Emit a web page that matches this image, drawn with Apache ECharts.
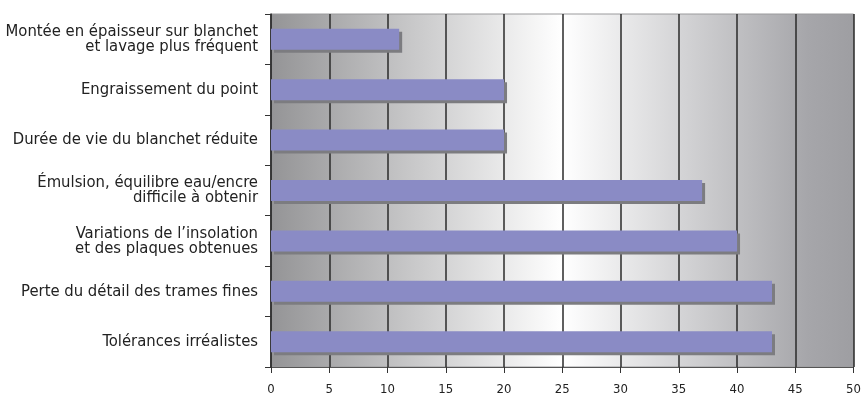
<!DOCTYPE html>
<html>
<head>
<meta charset="utf-8">
<script src="https://cdn.jsdelivr.net/npm/echarts@6/dist/echarts.min.js"></script>
<style>
  html, body { margin: 0; padding: 0; background: #ffffff; }
  #chart { width: 864px; height: 396px; }
</style>
</head>
<body>
<div id="chart"></div>
<script>
// Problèmes rencontrés (de bas en haut sur l'axe des catégories)
const categories = [
  'Tolérances irréalistes',
  'Perte du détail des trames fines',
  'Variations de l\u2019insolation\net des plaques obtenues',
  'Émulsion, équilibre eau/encre\ndifficile à obtenir',
  'Durée de vie du blanchet réduite',
  'Engraissement du point',
  'Montée en épaisseur sur blanchet\net lavage plus fréquent'
];
const values = [43, 43, 40, 37, 20, 20, 11];
const xTicks = [0, 5, 10, 15, 20, 25, 30, 35, 40, 45, 50];

const fontFamily = "'Liberation Sans Narrow', 'DejaVu Sans Condensed', 'Arial Narrow', sans-serif";

const chart = echarts.init(document.getElementById('chart'), null, { renderer: 'canvas' });

chart.setOption({
  animation: false,
  grid: {
    left: 271, right: 2, top: 14, bottom: 27,
    containLabel: false,
    show: true,
    borderColor: '#9a9a9c',
    borderWidth: 1,
    backgroundColor: new echarts.graphic.LinearGradient(0, 0, 1, 0, [
      { offset: 0, color: '#949496' },
      { offset: 0.5, color: '#ffffff' },
      { offset: 0.92, color: '#a6a6aa' },
      { offset: 1, color: '#9e9ea2' }
    ])
  },
  xAxis: {
    type: 'value',
    min: xTicks[0],
    max: xTicks[xTicks.length - 1],
    interval: 5,
    axisLine: { show: true, lineStyle: { color: '#555', width: 1 } },
    axisTick: { show: true, length: 6, lineStyle: { color: '#333' } },
    axisLabel: { color: '#222', fontFamily: fontFamily, fontSize: 13, margin: 16 },
    splitLine: { show: true, lineStyle: { color: '#2a2a2a', width: 1.5 } }
  },
  yAxis: {
    type: 'category',
    data: categories,
    axisLine: { show: true, lineStyle: { color: '#333', width: 1.5 } },
    axisTick: { show: true, length: 6, lineStyle: { color: '#333' } },
    axisLabel: {
      color: '#222', fontFamily: fontFamily, fontSize: 16.5, lineHeight: 15, margin: 13,
      align: 'right'
    },
    splitLine: { show: false }
  },
  series: [{
    type: 'bar',
    data: values,
    barWidth: 21,
    itemStyle: {
      color: '#8a8bc5',
      shadowColor: '#7c7c80',
      shadowBlur: 0,
      shadowOffsetX: 3,
      shadowOffsetY: 3
    }
  }]
});
</script>
</body>
</html>
